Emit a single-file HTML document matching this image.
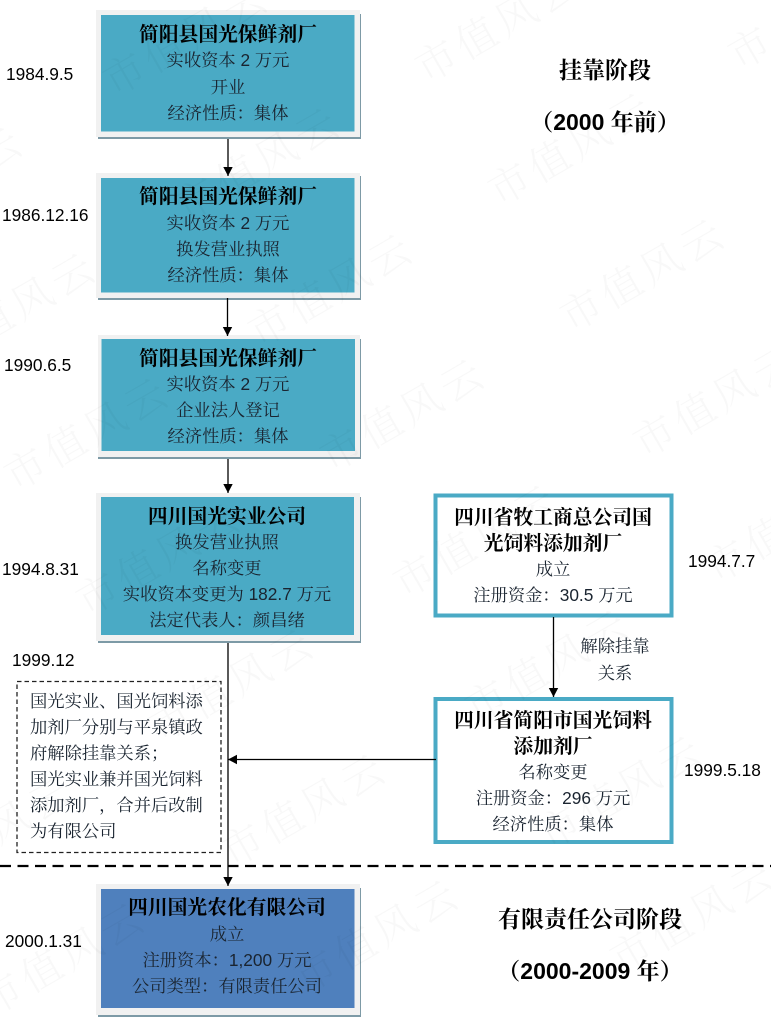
<!DOCTYPE html>
<html lang="zh"><head><meta charset="utf-8"><style>
html,body{margin:0;padding:0;background:#fff}
svg{display:block}
text{font-family:"Liberation Sans","Noto Serif CJK SC",serif;fill:#111;font-size:17.3px}
text.b{font-weight:700;font-size:19.8px;fill:#000}
text.h{font-weight:700;font-size:23px;fill:#000}
.m{text-anchor:middle}
text.d{font-size:17.3px;fill:#000}
.t text{fill:#1a2430}
.t text.b{fill:#000}
.w text{font-family:"Noto Serif CJK SC",serif;font-size:41px;font-weight:300;fill:#000;fill-opacity:.028;letter-spacing:5px}
</style></head><body>
<svg width="771" height="1025" viewBox="0 0 771 1025" xmlns="http://www.w3.org/2000/svg">
<defs><marker id="a" markerUnits="userSpaceOnUse" markerWidth="10" markerHeight="10" refX="9" refY="5" orient="auto"><path d="M0 0.3L9 5L0 9.7Z" fill="#000"/></marker></defs>
<rect width="771" height="1025" fill="#fff"/>

<!-- teal boxes -->
<g>
<rect x="98" y="14" width="263" height="125" fill="#7d9aa6"/><rect x="96" y="10" width="264" height="127" fill="#f1f1f1"/><rect x="101" y="15" width="253.500" height="116.500" fill="#4aaac5"/>
<rect x="98" y="176" width="263" height="124" fill="#7d9aa6"/><rect x="96" y="173" width="264" height="125" fill="#f1f1f1"/><rect x="101" y="178" width="253.500" height="114.500" fill="#4aaac5"/>
<rect x="98" y="339" width="263" height="120" fill="#7d9aa6"/><rect x="98" y="335" width="262" height="122" fill="#f1f1f1"/><rect x="101.500" y="339" width="253.500" height="112" fill="#4aaac5"/>
<rect x="98" y="497" width="263" height="146" fill="#7d9aa6"/><rect x="96" y="493" width="264" height="148" fill="#f1f1f1"/><rect x="101" y="497" width="253" height="138" fill="#4aaac5"/>
<rect x="98" y="888" width="263" height="129" fill="#7d9aa6"/><rect x="96" y="884" width="264" height="131" fill="#f1f1f1"/><rect x="101" y="889" width="253.500" height="119" fill="#4f80bd"/>
</g>
<rect x="435.500" y="495.500" width="236" height="120" fill="#fff" stroke="#4aaac5" stroke-width="4"/>
<rect x="435.500" y="699" width="236" height="143" fill="#fff" stroke="#4aaac5" stroke-width="4"/>
<rect x="17" y="681.500" width="204" height="171" fill="#fff" stroke="#222" stroke-width="1.300" stroke-dasharray="4.500 3"/>

<!-- connectors -->
<g stroke="#000" stroke-width="1.300" fill="none">
<line x1="228" y1="139" x2="228" y2="176" marker-end="url(#a)"/>
<line x1="227.500" y1="298" x2="227.500" y2="336" marker-end="url(#a)"/>
<line x1="228" y1="459" x2="228" y2="493" marker-end="url(#a)"/>
<line x1="228" y1="643" x2="228" y2="886" marker-end="url(#a)"/>
<line x1="553.500" y1="617" x2="553.500" y2="697" marker-end="url(#a)"/>
<line x1="436" y1="759.500" x2="228" y2="759.500" marker-end="url(#a)"/>
</g>
<line x1="0" y1="866" x2="771" y2="866" stroke="#000" stroke-width="2.200" stroke-dasharray="11 6.500"/>

<!-- box text -->
<g class="t">
<text class="b m" x="228" y="41">简阳县国光保鲜剂厂</text>
<text class="m" x="228" y="66">实收资本 2 万元</text>
<text class="m" x="228" y="93">开业</text>
<text class="m" x="228" y="119">经济性质：集体</text>

<text class="b m" x="228" y="203">简阳县国光保鲜剂厂</text>
<text class="m" x="228" y="229">实收资本 2 万元</text>
<text class="m" x="228" y="255">换发营业执照</text>
<text class="m" x="228" y="281">经济性质：集体</text>

<text class="b m" x="228" y="365">简阳县国光保鲜剂厂</text>
<text class="m" x="228" y="390">实收资本 2 万元</text>
<text class="m" x="228" y="416">企业法人登记</text>
<text class="m" x="228" y="442">经济性质：集体</text>

<text class="b m" x="227" y="523">四川国光实业公司</text>
<text class="m" x="227" y="548">换发营业执照</text>
<text class="m" x="227" y="574">名称变更</text>
<text class="m" x="227" y="600">实收资本变更为 182.7 万元</text>
<text class="m" x="227" y="626">法定代表人：颜昌绪</text>

<text class="b m" x="227" y="914">四川国光农化有限公司</text>
<text class="m" x="227" y="940">成立</text>
<text class="m" x="227" y="966">注册资本：1,200 万元</text>
<text class="m" x="227" y="992">公司类型：有限责任公司</text>

<text class="b m" x="553" y="524">四川省牧工商总公司国</text>
<text class="b m" x="553" y="550">光饲料添加剂厂</text>
<text class="m" x="553" y="575">成立</text>
<text class="m" x="553" y="601">注册资金：30.5 万元</text>

<text class="b m" x="553" y="727">四川省简阳市国光饲料</text>
<text class="b m" x="553" y="753">添加剂厂</text>
<text class="m" x="553" y="778">名称变更</text>
<text class="m" x="553" y="804">注册资金：296 万元</text>
<text class="m" x="553" y="830">经济性质：集体</text>

<text class="m" x="615" y="652">解除挂靠</text>
<text class="m" x="615" y="679">关系</text>

<text x="30" y="707">国光实业、国光饲料添</text>
<text x="30" y="733">加剂厂分别与平泉镇政</text>
<text x="30" y="759">府解除挂靠关系；</text>
<text x="30" y="785">国光实业兼并国光饲料</text>
<text x="30" y="811">添加剂厂，合并后改制</text>
<text x="30" y="837">为有限公司</text>
</g>

<!-- dates -->
<text class="d" x="6" y="80">1984.9.5</text>
<text class="d" x="2" y="221">1986.12.16</text>
<text class="d" x="4" y="371">1990.6.5</text>
<text class="d" x="2" y="575">1994.8.31</text>
<text class="d" x="12" y="666">1999.12</text>
<text class="d" x="5" y="947">2000.1.31</text>
<text class="d" x="688" y="567">1994.7.7</text>
<text class="d" x="684" y="776">1999.5.18</text>

<!-- stage headings -->
<text class="h m" x="605" y="78">挂靠阶段</text>
<text class="h m" x="605" y="130">（2000 年前）</text>
<text class="h m" x="590" y="927">有限责任公司阶段</text>
<text class="h m" x="590" y="979">（2000-2009 年）</text>

<!-- watermark -->
<g class="w">
<text transform="translate(114,97) rotate(-30)">市值风云</text>
<text transform="translate(186,222) rotate(-30)">市值风云</text>
<text transform="translate(259,348) rotate(-30)">市值风云</text>
<text transform="translate(331,473) rotate(-30)">市值风云</text>
<text transform="translate(404,599) rotate(-30)">市值风云</text>
<text transform="translate(476,724) rotate(-30)">市值风云</text>
<text transform="translate(549,850) rotate(-30)">市值风云</text>
<text transform="translate(621,975) rotate(-30)">市值风云</text>
<text transform="translate(426,84) rotate(-30)">市值风云</text>
<text transform="translate(499,207) rotate(-30)">市值风云</text>
<text transform="translate(571,333) rotate(-30)">市值风云</text>
<text transform="translate(644,459) rotate(-30)">市值风云</text>
<text transform="translate(716,584) rotate(-30)">市值风云</text>
<text transform="translate(739,71) rotate(-30)">市值风云</text>
<text transform="translate(-131,241) rotate(-30)">市值风云</text>
<text transform="translate(-58,367) rotate(-30)">市值风云</text>
<text transform="translate(15,492) rotate(-30)">市值风云</text>
<text transform="translate(87,617) rotate(-30)">市值风云</text>
<text transform="translate(160,743) rotate(-30)">市值风云</text>
<text transform="translate(232,868) rotate(-30)">市值风云</text>
<text transform="translate(305,994) rotate(-30)">市值风云</text>
<text transform="translate(-9,1017) rotate(-30)">市值风云</text>
<text transform="translate(-81,891) rotate(-30)">市值风云</text>
</g>
</svg>
</body></html>
